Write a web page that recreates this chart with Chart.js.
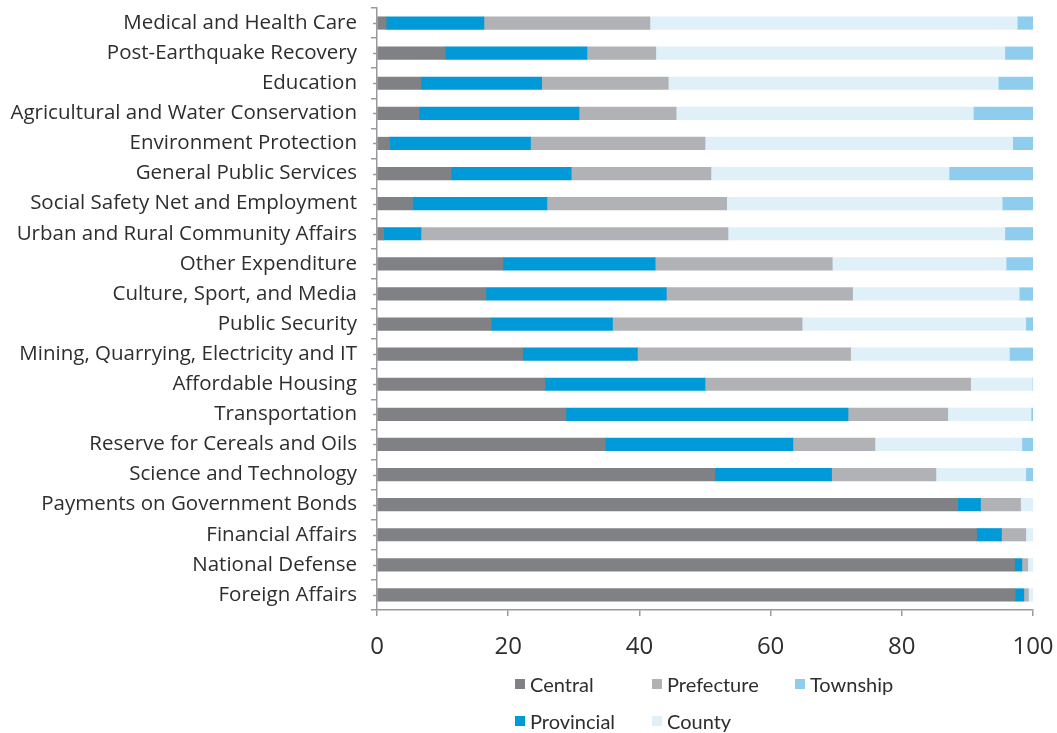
<!DOCTYPE html>
<html>
<head>
<meta charset="utf-8">
<script src="https://cdn.jsdelivr.net/npm/chart.js@4/dist/chart.umd.min.js"></script>
<style>
  html, body { margin: 0; padding: 0; background: #ffffff; }
  #wrap { position: relative; width: 1057px; height: 733px; }
  #chart { position: absolute; left: 0; top: 0; }
  #legend {
    position: absolute; left: 515px; top: 665px;
    display: grid;
    grid-auto-flow: column;
    grid-template-rows: 37px 37px;
    grid-template-columns: 137px 143px auto;
    font-family: Lato, "Open Sans", sans-serif;
    font-size: 20px; color: #2e2e2e;
  }
  #legend .item { display: flex; align-items: center; }
  #legend .box { width: 10px; height: 10px; margin-right: 5px; flex: none; }
</style>
</head>
<body>
<div id="wrap">
  <canvas id="chart" width="1057" height="733"></canvas>
  <div id="legend"></div>
</div>
<script>
// Spending categories, top to bottom
const categories = [
  "Medical and Health Care",
  "Post-Earthquake Recovery",
  "Education",
  "Agricultural and Water Conservation",
  "Environment Protection",
  "General Public Services",
  "Social Safety Net and Employment",
  "Urban and Rural Community Affairs",
  "Other Expenditure",
  "Culture, Sport, and Media",
  "Public Security",
  "Mining, Quarrying, Electricity and IT",
  "Affordable Housing",
  "Transportation",
  "Reserve for Cereals and Oils",
  "Science and Technology",
  "Payments on Government Bonds",
  "Financial Affairs",
  "National Defense",
  "Foreign Affairs"
];

// Share of expenditure by level of government (%)
const central    = [1.4, 10.4, 6.7, 6.4, 1.9, 11.3, 5.4, 1.0, 19.2, 16.6, 17.4, 22.2, 25.6, 28.8, 34.8, 51.5, 88.5, 91.4, 97.2, 97.3];
const provincial = [14.9, 21.6, 18.4, 24.4, 21.5, 18.3, 20.5, 5.7, 23.2, 27.5, 18.5, 17.5, 24.4, 43.0, 28.6, 17.8, 3.5, 3.8, 1.1, 1.3];
const prefecture = [25.3, 10.5, 19.3, 14.8, 26.6, 21.3, 27.4, 46.8, 27.0, 28.4, 28.9, 32.5, 40.5, 15.2, 12.5, 15.9, 6.1, 3.7, 0.9, 0.7];
const county     = [56.0, 53.2, 50.3, 45.3, 46.9, 36.3, 42.0, 42.2, 26.5, 25.4, 34.1, 24.2, 9.4, 12.7, 22.4, 13.7, 1.9, 1.1, 0.8, 0.7];
const township   = [2.4, 4.3, 5.3, 9.1, 3.1, 12.8, 4.7, 4.3, 4.1, 2.1, 1.1, 3.6, 0.1, 0.3, 1.7, 1.1, 0, 0, 0, 0];

const seriesNames = ["Central", "Provincial", "Prefecture", "County", "Township"];
const seriesColors = ["#808185", "#009ad9", "#b1b2b5", "#dff0f9", "#8fcdee"];
const seriesValues = [central, provincial, prefecture, county, township];

const xTickValues = [0, 20, 40, 60, 80, 100];

const axisColor = "#9a9a9c";

// Short ticks at the centre of every category, next to the axis line
const centreTicks = {
  id: "centreTicks",
  afterDraw(chart) {
    const y = chart.scales.y;
    const ctx = chart.ctx;
    ctx.save();
    ctx.strokeStyle = axisColor;
    ctx.lineWidth = 1.5;
    for (let i = 0; i < categories.length; i++) {
      const py = Math.round(y.getPixelForValue(i)) + 0.5;
      ctx.beginPath();
      ctx.moveTo(y.right - 4, py);
      ctx.lineTo(y.right, py);
      ctx.stroke();
    }
    ctx.restore();
  }
};

const chart = new Chart(document.getElementById("chart"), {
  type: "bar",
  data: {
    labels: categories,
    datasets: seriesNames.map((name, i) => ({
      label: name,
      data: seriesValues[i],
      backgroundColor: seriesColors[i],
      borderWidth: 0,
      barThickness: 12.5
    }))
  },
  options: {
    indexAxis: "y",
    responsive: false,
    animation: false,
    layout: { padding: { left: 0, right: 24, top: 8, bottom: 79 } },
    plugins: {
      legend: { display: false },
      tooltip: { enabled: false }
    },
    scales: {
      x: {
        stacked: true,
        min: 0,
        max: 100,
        afterBuildTicks: s => { s.ticks = xTickValues.map(v => ({ value: v })); },
        afterFit: s => { s.height = 44; s.paddingLeft = 0; s.paddingRight = 0; },
        border: { display: true, color: axisColor, width: 1.5 },
        grid: { drawOnChartArea: false, drawTicks: true, tickLength: 6, color: axisColor, lineWidth: 1.5 },
        ticks: {
          color: "#2e2e2e",
          padding: 17,
          font: { family: "'Open Sans', sans-serif", size: 24 }
        }
      },
      y: {
        stacked: true,
        afterFit: s => { s.width = 377; s.paddingTop = 0; s.paddingBottom = 0; },
        border: { display: true, color: axisColor, width: 1.5 },
        grid: { offset: true, drawOnChartArea: false, drawTicks: true, tickLength: 6, color: axisColor, lineWidth: 1.5 },
        ticks: {
          color: "#2e2e2e",
          padding: 14,
          autoSkip: false,
          font: { family: "'Open Sans', sans-serif", size: 20.5 }
        }
      }
    }
  },
  plugins: [centreTicks]
});

// Legend laid out in columns: Central/Provincial, Prefecture/County, Township
const legendEl = document.getElementById("legend");
chart.data.datasets.forEach(ds => {
  const item = document.createElement("div");
  item.className = "item";
  const box = document.createElement("span");
  box.className = "box";
  box.style.background = ds.backgroundColor;
  const label = document.createElement("span");
  label.textContent = ds.label;
  item.appendChild(box);
  item.appendChild(label);
  legendEl.appendChild(item);
});
</script>
</body>
</html>
